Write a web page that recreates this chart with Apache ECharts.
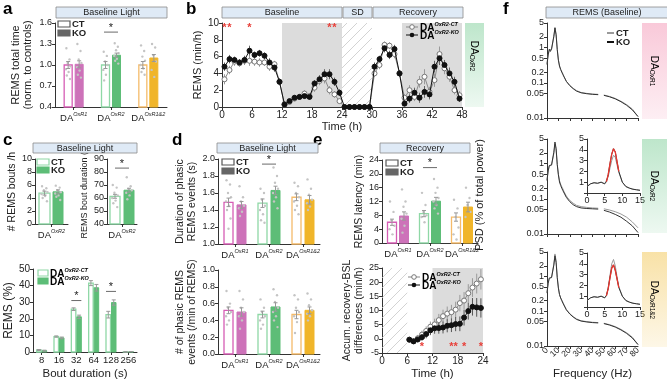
<!DOCTYPE html>
<html>
<head>
<meta charset="utf-8">
<script src="https://cdn.jsdelivr.net/npm/echarts@6.0.0/dist/echarts.min.js"></script>
<style>
  html, body { margin: 0; padding: 0; background: #fff; }
  #chart { width: 667px; height: 381px; }
</style>
</head>
<body>
<div id="chart"></div>
<script>
// ---- values ----
const groups = ['OxR1', 'OxR2', 'OxR1&2'];
const oxr2Only = ['OxR2'];

// a: REMS total time, baseline light (normalised to controls)
const totalCT = [1.0, 1.0, 1.0];
const totalKO = [1.01, 1.14, 1.1];
const totalCTErr = [0.05, 0.05, 0.05];
const totalKOErr = [0.05, 0.03, 0.05];
const totalCTDots = [[1.24, 1.08, 1.03, 0.98, 0.94, 0.9, 0.85, 0.8], [1.19, 1.13, 1.05, 1.0, 0.93, 0.86, 0.78], [1.28, 1.2, 1.12, 1.06, 1.0, 0.95, 0.9, 0.86]];
const totalKODots = [[1.3, 1.2, 1.08, 1.03, 0.97, 0.92, 0.86, 0.82], [1.31, 1.26, 1.21, 1.17, 1.13, 1.09, 1.06, 1.02], [1.3, 1.25, 1.14, 1.05, 0.93, 0.83]];
const totalTicks = [0.4, 0.7, 1.0, 1.3, 1.6];

// b: hourly REMS (min/h)
const hours = Array.from({ length: 48 }, (_, i) => i + 0.5);
const hourlyCT = [3.3, 4.4, 5.4, 5.2, 5.5, 5.5, 5.4, 5.3, 5.3, 4.8, 5.1, 3.0,
  0.3, 0.6, 1.0, 1.2, 1.6, 1.3, 2.3, 3.1, 3.4, 2.0, 1.5, 0.7,
  0, 0, 0, 0, 0, 0,
  4.0, 5.0, 7.4, 7.3, 6.3, 4.0, 1.1, 2.0, 1.2, 3.0, 3.6, 1.8, 3.2, 6.3, 4.6, 3.6, 2.0, 1.4];
const hourlyKO = [4.8, 5.7, 5.6, 5.3, 5.6, 6.7, 6.2, 6.4, 6.1, 5.3, 4.7, 3.0,
  0.3, 0.7, 1.1, 1.2, 1.3, 1.2, 2.8, 3.3, 3.9, 3.9, 3.0, 1.7,
  0, 0, 0, 0, 0, 0,
  4.8, 5.7, 7.0, 6.2, 6.9, 4.0, 0.4, 1.0, 1.7, 1.1, 1.8, 1.5, 4.8, 5.8, 5.0, 4.0, 3.0, 1.0];
const hourlyCTErr = [0.6, 0.5, 0.5, 0.4, 0.5, 0.6, 0.5, 0.5, 0.4, 0.5, 0.4, 0.4,
  0.2, 0.2, 0.3, 0.3, 0.4, 0.3, 0.5, 0.5, 0.6, 0.5, 0.4, 0.3,
  0, 0, 0, 0, 0, 0,
  0.4, 0.5, 0.4, 0.4, 0.5, 0.4, 0.4, 0.6, 0.5, 0.7, 0.9, 0.6, 0.8, 0.9, 0.7, 0.6, 0.5, 0.5];
const hourlyKOErr = [0.5, 0.5, 0.4, 0.4, 0.5, 0.6, 0.4, 0.4, 0.4, 0.5, 0.5, 0.4,
  0.2, 0.2, 0.3, 0.3, 0.3, 0.3, 0.4, 0.5, 0.6, 0.6, 0.5, 0.4,
  0, 0, 0, 0, 0, 0,
  0.5, 0.4, 0.5, 0.5, 0.5, 0.4, 0.3, 0.5, 0.6, 0.6, 0.7, 0.6, 0.7, 0.8, 0.6, 0.7, 0.6, 0.4];
const sigHoursB = [0.5, 1.5, 5.5, 21.5, 22.5];

// c: bouts
const boutsCT = [4.75], boutsKO = [4.95];
const boutsCTErr = [0.3], boutsKOErr = [0.3];
const boutsCTDots = [[5.8, 5.5, 5.2, 4.9, 4.6, 4.3, 4.0, 3.5]];
const boutsKODots = [[5.9, 5.6, 5.2, 4.9, 4.7, 4.4, 4.2, 3.7]];
const boutDurCT = [61.3], boutDurKO = [66.0];
const boutDurCTErr = [1.5], boutDurKOErr = [1.5];
const boutDurCTDots = [[70, 68, 64, 62, 60, 58, 56, 53]];
const boutDurKODots = [[76, 69, 67, 66, 64, 62, 59]];
const boutBins = ['8', '16', '32', '64', '128', '256'];
const boutPctCT = [1.2, 9.3, 25.8, 41.5, 22.5, 0.1];
const boutPctKO = [0.8, 8.5, 21.2, 38.7, 29.8, 0.2];
const boutPctCTErr = [0.3, 0.4, 0.8, 1.5, 2.0, 0.1];
const boutPctKOErr = [0.3, 0.5, 1.0, 2.0, 1.6, 0.1];

// d: phasic REMS
const phDurCT = [1.49, 1.48, 1.55], phDurKO = [1.46, 1.63, 1.52];
const phDurCTErr = [0.05, 0.05, 0.04], phDurKOErr = [0.04, 0.05, 0.05];
const phDurCTDots = [[1.75, 1.7, 1.6, 1.55, 1.5, 1.45, 1.4, 1.3, 1.18], [1.65, 1.6, 1.52, 1.45, 1.4, 1.35, 1.28, 1.25], [1.72, 1.68, 1.6, 1.55, 1.5, 1.45, 1.4, 1.35]];
const phDurKODots = [[1.68, 1.55, 1.5, 1.45, 1.42, 1.38, 1.33], [1.9, 1.8, 1.72, 1.65, 1.6, 1.55, 1.5, 1.42], [1.76, 1.65, 1.58, 1.52, 1.48, 1.44, 1.4]];
const phNumCT = [0.52, 0.47, 0.47], phNumKO = [0.50, 0.56, 0.52];
const phNumCTErr = [0.04, 0.04, 0.05], phNumKOErr = [0.05, 0.05, 0.04];
const phNumCTDots = [[0.75, 0.6, 0.55, 0.5, 0.45, 0.4, 0.35], [0.65, 0.55, 0.5, 0.45, 0.4, 0.35, 0.3], [0.7, 0.65, 0.55, 0.5, 0.45, 0.38, 0.25]];
const phNumKODots = [[0.75, 0.65, 0.55, 0.5, 0.45, 0.4, 0.3], [0.77, 0.7, 0.62, 0.55, 0.5, 0.45, 0.4, 0.32], [0.72, 0.65, 0.58, 0.52, 0.48, 0.45, 0.4]];

// e: recovery
const latCT = [6.0, 8.5, 7.5], latKO = [7.8, 12.1, 10.4];
const latCTErr = [0.9, 0.9, 1.2], latKOErr = [1.2, 1.1, 1.4];
const latCTDots = [[12, 9, 6.5, 5, 4, 2.5], [14.5, 11, 9, 8, 7.5, 6], [12.5, 10, 7.5, 4.5, 2.5, 1]];
const latKODots = [[15.5, 12, 10.5, 8.5, 7, 5, 3], [18.5, 16, 14.5, 13, 12, 11, 10, 8.5], [16, 13, 11, 9, 7.5]];
const recHours = [6.5, 7.5, 8.5, 9.5, 10.5, 11.5, 12.5, 13.5, 14.5, 15.5, 16.5, 17.5, 18.5, 19.5, 20.5, 21.5, 22.5, 23.5];
const accCT = [-0.3, -0.8, 0.2, 1.5, 2.8, 4.3, 5.1, 6.6, 8.0, 8.9, 9.4, 10.3, 12.6, 13.5, 16.1, 18.1, 19.5, 21.0];
const accKO = [-0.3, -0.9, -0.2, 0.6, 1.7, 3.0, 3.7, 3.8, 4.0, 4.6, 4.8, 5.2, 5.3, 7.5, 9.8, 11.3, 11.1, 10.9];
const accCTErr = [0.8, 1.0, 1.2, 1.4, 1.6, 1.8, 2.0, 2.2, 2.3, 2.5, 2.6, 2.8, 2.9, 3.0, 3.2, 3.3, 3.5, 3.6];
const accKOErr = [0.8, 0.9, 1.1, 1.3, 1.5, 1.7, 1.9, 2.0, 2.1, 2.3, 2.4, 2.5, 2.6, 2.8, 3.0, 3.1, 3.3, 3.4];
const sigHoursE = [9.5, 16.5, 17.5, 19.5, 23.5];

// f: REMS PSD (% of total power), log scale; null = notch gap
const freqHz = [0, 1, 2, 3, 4, 5, 6, 7, 8, 9, 10, 11, 12, 13, 14, 15, 17, 20, 23, 26, 30, 35, 40, 45, 47.5, 50, 55, 60, 65, 70, 75, 80];
const psdR1CT = [0.35, 0.6, 0.85, 0.75, 0.9, 0.95, 2.0, 3.8, 2.4, 0.9, 0.45, 0.3, 0.24, 0.21, 0.18, 0.15, 0.11, 0.085, 0.07, 0.06, 0.053, 0.05, 0.048, 0.047, null, 0.045, 0.041, 0.036, 0.03, 0.024, 0.018, 0.011];
const psdR1KO = [0.33, 0.62, 0.9, 0.78, 0.92, 0.95, 2.1, 3.6, 2.3, 0.88, 0.44, 0.3, 0.24, 0.2, 0.17, 0.15, 0.11, 0.083, 0.068, 0.058, 0.052, 0.049, 0.047, 0.046, null, 0.044, 0.04, 0.035, 0.029, 0.023, 0.017, 0.011];
const psdR2CT = [0.35, 0.6, 0.85, 0.75, 0.9, 0.9, 1.9, 3.6, 2.5, 0.95, 0.5, 0.33, 0.26, 0.22, 0.19, 0.16, 0.12, 0.09, 0.075, 0.065, 0.06, 0.057, 0.055, 0.054, null, 0.052, 0.048, 0.043, 0.037, 0.03, 0.022, 0.015];
const psdR2KO = [0.33, 0.62, 0.88, 0.78, 0.92, 0.9, 2.1, 4.1, 2.7, 0.95, 0.48, 0.3, 0.24, 0.2, 0.17, 0.15, 0.11, 0.083, 0.068, 0.06, 0.055, 0.053, 0.052, 0.051, null, 0.047, 0.042, 0.036, 0.03, 0.023, 0.017, 0.011];
const psdR12CT = [0.35, 0.65, 0.9, 0.8, 0.95, 0.95, 2.2, 4.4, 2.8, 0.95, 0.48, 0.3, 0.24, 0.21, 0.18, 0.15, 0.11, 0.085, 0.07, 0.06, 0.053, 0.05, 0.048, 0.047, null, 0.045, 0.041, 0.036, 0.03, 0.024, 0.018, 0.011];
const psdR12KO = [0.33, 0.62, 0.88, 0.78, 0.92, 0.95, 2.1, 3.9, 2.5, 0.92, 0.46, 0.3, 0.24, 0.2, 0.17, 0.15, 0.11, 0.083, 0.068, 0.058, 0.052, 0.049, 0.047, 0.046, null, 0.044, 0.04, 0.035, 0.029, 0.023, 0.017, 0.011];
const psdTicks = [0.01, 0.05, 0.1, 0.2, 0.5, 1, 2, 5];
const freqTicks = [0, 10, 20, 30, 40, 50, 60, 70, 80];
const freqEnds = [0, 80];
const insetHz = [0, 1, 2, 3, 4, 5, 5.5, 6, 6.5, 7, 7.5, 8, 8.5, 9, 10, 11, 12, 13, 14, 15];
const insetR2CT = [0.6, 0.85, 0.95, 0.9, 1.0, 0.85, 1.0, 1.5, 2.3, 3.0, 3.5, 3.3, 2.6, 1.9, 1.0, 0.6, 0.45, 0.35, 0.3, 0.25];
const insetR2KO = [0.6, 0.85, 0.95, 0.9, 1.0, 0.85, 1.05, 1.7, 2.7, 3.6, 4.1, 3.8, 2.9, 2.0, 1.0, 0.6, 0.45, 0.35, 0.3, 0.25];
const insetR12CT = [0.6, 0.85, 0.95, 0.9, 1.0, 0.85, 1.1, 1.8, 2.9, 4.0, 4.4, 3.8, 2.8, 1.9, 1.0, 0.6, 0.45, 0.35, 0.3, 0.25];
const insetR12KO = [0.6, 0.85, 0.95, 0.9, 1.0, 0.85, 1.05, 1.7, 2.7, 3.6, 3.9, 3.4, 2.6, 1.8, 1.0, 0.6, 0.45, 0.35, 0.3, 0.25];

// ---- styling ----
const FONT = 'Liberation Sans, Arial, sans-serif';
const INK = '#222';
const colOxR1 = { line: '#d65db5', fill: '#cd72b9' };
const colOxR2 = { line: '#8fd8a6', fill: '#5dbd77' };
const colOxR12 = { line: '#f5bb6a', fill: '#f0b52a' };
const groupCols = [colOxR1, colOxR2, colOxR12];
const jitter = [-2, 1.5, -0.5, 2.5, -2.5, 0.5, -1.5, 2, 0];

const hatch = document.createElement('canvas');
hatch.width = 10; hatch.height = 10;
(function () {
  const g = hatch.getContext('2d');
  g.strokeStyle = '#c8c8c8'; g.lineWidth = 0.8;
  g.beginPath();
  g.moveTo(0, 10); g.lineTo(10, 0);
  g.moveTo(-3, 3); g.lineTo(3, -3);
  g.moveTo(7, 13); g.lineTo(13, 7);
  g.stroke();
})();

function merge(a, b) {
  for (const k in b) {
    if (b[k] && typeof b[k] === 'object' && !Array.isArray(b[k]) && a[k] && typeof a[k] === 'object' && !Array.isArray(a[k])) merge(a[k], b[k]);
    else a[k] = b[k];
  }
  return a;
}
function ax(o) {
  return merge({
    axisLine: { show: true, onZero: false, lineStyle: { color: '#333', width: 1 } },
    axisTick: { show: true, length: 3, lineStyle: { color: '#333', width: 1 } },
    axisLabel: { color: INK, fontSize: 9, fontFamily: FONT, margin: 3, hideOverlap: false },
    splitLine: { show: false },
    nameLocation: 'middle',
    nameTextStyle: { color: INK, fontSize: 10.5, fontFamily: FONT, lineHeight: 12 }
  }, o);
}
const daRich = {
  d: { fontSize: 9.5, fontFamily: FONT, color: INK, lineHeight: 12, verticalAlign: 'bottom' },
  s: { fontSize: 5.5, fontFamily: FONT, fontStyle: 'italic', color: INK, lineHeight: 12, verticalAlign: 'top' }
};
const daAxisLabel = { formatter: v => '{d|DA}{s|' + v + '}', rich: daRich, margin: 4, interval: 0 };

const grids = [], xAxes = [], yAxes = [], series = [], gfx = [];
function addGrid(box, xa, ya) {
  grids.push(box);
  const i = grids.length - 1;
  xAxes.push(ax(merge({ gridIndex: i }, xa)));
  yAxes.push(ax(merge({ gridIndex: i }, ya)));
  return i;
}
function catX(cats) {
  return { type: 'category', data: cats, axisTick: { alignWithLabel: true, interval: 0 }, axisLabel: daAxisLabel };
}

// bars + dots + error bars through a custom series on the category axis
function bars(gi, means, errs, dots, side, cols, bw, gap, yMin) {
  series.push({
    type: 'custom', xAxisIndex: gi, yAxisIndex: gi, silent: true, clip: false, z: 3,
    data: means.map((m, i) => [i, m]),
    renderItem(p, api) {
      const i = p.dataIndex;
      const top = api.coord([i, means[i]]);
      const base = api.coord([i, yMin]);
      const cx = top[0] + side * (gap / 2 + bw / 2);
      const c = cols[i];
      const kids = [{
        type: 'rect',
        shape: { x: cx - bw / 2, y: top[1], width: bw, height: base[1] - top[1] },
        style: side < 0 ? { fill: '#fff', stroke: c.line, lineWidth: 1.3 } : { fill: c.fill, stroke: c.fill, lineWidth: 1 }
      }];
      (dots ? dots[i] : []).forEach((d, k) => {
        const q = api.coord([i, d]);
        kids.push({ type: 'circle', shape: { cx: cx + jitter[k % jitter.length] * bw / 9, cy: q[1], r: 1.2 }, style: { fill: '#c4c4c4' } });
      });
      const hi = api.coord([i, means[i] + errs[i]]);
      const lo = api.coord([i, means[i] - errs[i]]);
      const es = { stroke: '#999', lineWidth: 1 };
      kids.push({ type: 'line', shape: { x1: cx, y1: hi[1], x2: cx, y2: lo[1] }, style: es });
      kids.push({ type: 'line', shape: { x1: cx - 2, y1: hi[1], x2: cx + 2, y2: hi[1] }, style: es });
      kids.push({ type: 'line', shape: { x1: cx - 2, y1: lo[1], x2: cx + 2, y2: lo[1] }, style: es });
      return { type: 'group', children: kids };
    }
  });
}
function sig(gi, cat, yVal, half) {
  series.push({
    type: 'custom', xAxisIndex: gi, yAxisIndex: gi, silent: true, clip: false, z: 4,
    data: [[cat, yVal]],
    renderItem(p, api) {
      const c = api.coord([api.value(0), api.value(1)]);
      return {
        type: 'group', children: [
          { type: 'line', shape: { x1: c[0] - half, y1: c[1], x2: c[0] + half, y2: c[1] }, style: { stroke: '#444', lineWidth: 0.8 } },
          { type: 'text', x: c[0], y: c[1] + 1, style: { text: '*', fill: INK, fontSize: 11, fontFamily: FONT, textAlign: 'center', textVerticalAlign: 'bottom' } }
        ]
      };
    }
  });
}
function redStars(gi, xs, yVal) {
  series.push({
    type: 'custom', xAxisIndex: gi, yAxisIndex: gi, silent: true, clip: false, z: 5,
    data: xs.map(x => [x, yVal]),
    renderItem(p, api) {
      const c = api.coord([api.value(0), api.value(1)]);
      return { type: 'text', x: c[0], y: c[1], style: { text: '*', fill: '#e8403a', fontSize: 11, fontWeight: 'bold', fontFamily: FONT, textAlign: 'center', textVerticalAlign: 'middle' } };
    }
  });
}
function errLines(gi, xs, ys, es, color) {
  series.push({
    type: 'custom', xAxisIndex: gi, yAxisIndex: gi, silent: true, z: 1,
    data: xs.map((x, i) => [x, ys[i], es[i]]),
    renderItem(p, api) {
      const x = api.value(0), y = api.value(1), e = api.value(2);
      const a = api.coord([x, y + e]), b = api.coord([x, y - e]);
      return { type: 'line', shape: { x1: a[0], y1: a[1], x2: b[0], y2: b[1] }, style: { stroke: color, lineWidth: 1 } };
    }
  });
}
function timeLine(gi, xs, ys, filled, extra) {
  series.push(merge({
    type: 'line', xAxisIndex: gi, yAxisIndex: gi, silent: true, z: filled ? 3 : 2,
    data: xs.map((x, i) => [x, ys[i]]),
    symbol: 'circle', symbolSize: 5, showSymbol: true,
    lineStyle: { color: filled ? '#111' : '#8a8a8a', width: 1 },
    itemStyle: filled ? { color: '#111', borderColor: '#111' } : { color: '#fff', borderColor: '#777', borderWidth: 1 }
  }, extra || {}));
}

// graphic helpers
function header(x, y, w, h, text) {
  gfx.push({ type: 'rect', shape: { x, y, width: w, height: h }, style: { fill: '#dfeaf6', stroke: '#8a8a8a', lineWidth: 0.8 } });
  gfx.push({ type: 'text', x: x + w / 2, y: y + h / 2 + 0.5, style: { text, fill: INK, fontSize: 9, fontFamily: FONT, textAlign: 'center', textVerticalAlign: 'middle' } });
}
function letter(x, y, t) {
  gfx.push({ type: 'text', x, y, style: { text: t, fill: '#000', fontSize: 17, fontWeight: 'bold', fontFamily: FONT, textVerticalAlign: 'top' } });
}
function boxLegend(x, y, stroke, fill, label) {
  gfx.push({ type: 'rect', shape: { x, y: y - 3, width: 12, height: 6 }, style: { fill, stroke, lineWidth: 1.2 } });
  gfx.push({ type: 'text', x: x + 14, y, style: { text: label, fill: INK, fontSize: 9.5, fontWeight: 'bold', fontFamily: FONT, textVerticalAlign: 'middle' } });
}
const supRich = {
  d: { fontSize: 10, fontWeight: 'bold', fontFamily: FONT, color: INK, lineHeight: 12, verticalAlign: 'bottom' },
  s: { fontSize: 5.5, fontWeight: 'bold', fontStyle: 'italic', fontFamily: FONT, color: INK, lineHeight: 12, verticalAlign: 'top' }
};
function lineLegend(x, y, filled, sup) {
  gfx.push({ type: 'line', shape: { x1: x, y1: y, x2: x + 12, y2: y }, style: { stroke: filled ? '#111' : '#888', lineWidth: 1 } });
  gfx.push({ type: 'circle', shape: { cx: x + 6, cy: y, r: 2.3 }, style: filled ? { fill: '#111' } : { fill: '#fff', stroke: '#777', lineWidth: 1 } });
  gfx.push({ type: 'text', x: x + 14, y, style: { text: '{d|DA}{s|' + sup + '}', rich: supRich, textVerticalAlign: 'middle' } });
}
function grpLegend(x, y, stroke, fill, sup) {
  gfx.push({ type: 'rect', shape: { x, y: y - 3, width: 10, height: 6 }, style: { fill, stroke, lineWidth: 1.2 } });
  gfx.push({ type: 'text', x: x + 12, y, style: { text: '{d|DA}{s|' + sup + '}', rich: supRich, textVerticalAlign: 'middle' } });
}
function band(x, y, w, h, c0, c1, sup, cy) {
  gfx.push({ type: 'rect', shape: { x, y, width: w, height: h }, style: { fill: new echarts.graphic.LinearGradient(0, 0, 0, 1, [{ offset: 0, color: c0 }, { offset: 1, color: c1 }]) } });
  gfx.push({
    type: 'text', x: x + w / 2, y: cy, rotation: -Math.PI / 2,
    style: {
      text: '{d|DA}{s|' + sup + '}', textAlign: 'center', textVerticalAlign: 'middle',
      rich: { d: { fontSize: 10, fontFamily: FONT, color: '#333', lineHeight: 12, verticalAlign: 'bottom' }, s: { fontSize: 6.5, fontFamily: FONT, color: '#333', lineHeight: 12, verticalAlign: 'bottom' } }
    }
  });
}
function vText(x, y, t, size) {
  gfx.push({ type: 'text', x, y, rotation: Math.PI / 2, style: { text: t, fill: INK, fontSize: size, fontFamily: FONT, textAlign: 'center', textVerticalAlign: 'middle' } });
}

// ---- panel a ----
const ga = addGrid({ left: 55, top: 23, width: 112, height: 84 }, catX(groups),
  { type: 'value', min: 0.4, max: 1.6, axisLabel: { customValues: totalTicks, formatter: v => v.toFixed(1) }, axisTick: { customValues: totalTicks },
    name: 'REMS total time\n(norm. to controls)', nameGap: 21, nameTextStyle: { fontSize: 11 } });
bars(ga, totalCT, totalCTErr, totalCTDots, -1, groupCols, 8, 3, 0.4);
bars(ga, totalKO, totalKOErr, totalKODots, 1, groupCols, 8, 3, 0.4);
sig(ga, 1, 1.47, 7);

// ---- panel b ----
const gb = addGrid({ left: 222, top: 23, width: 240, height: 84 },
  { type: 'value', min: 0, max: 48, interval: 6, axisLabel: { fontSize: 10 }, name: 'Time (h)', nameGap: 14, nameTextStyle: { fontSize: 11 } },
  { type: 'value', min: 0, max: 10, interval: 2, axisLabel: { fontSize: 10 }, name: 'REMS (min/h)', nameGap: 17, nameTextStyle: { fontSize: 11 } });
errLines(gb, hours, hourlyCT, hourlyCTErr, '#9a9a9a');
errLines(gb, hours, hourlyKO, hourlyKOErr, '#666');
timeLine(gb, hours, hourlyCT, false, {
  markArea: { silent: true, data: [
    [{ xAxis: 12, itemStyle: { color: '#dcdcdc' } }, { xAxis: 24 }],
    [{ xAxis: 36, itemStyle: { color: '#dcdcdc' } }, { xAxis: 48 }],
    [{ xAxis: 24, itemStyle: { color: { image: hatch, repeat: 'repeat' } } }, { xAxis: 30 }]
  ] }
});
timeLine(gb, hours, hourlyKO, true);
redStars(gb, sigHoursB, 9.4);

// ---- panel c ----
const gc1 = addGrid({ left: 35, top: 159, width: 33, height: 65 }, catX(oxr2Only),
  { type: 'value', min: 0, max: 10, interval: 2, name: '# REMS bouts /h', nameGap: 13, nameTextStyle: { fontSize: 10.5 } });
bars(gc1, boutsCT, boutsCTErr, boutsCTDots, -1, [colOxR2], 11, 3, 0);
bars(gc1, boutsKO, boutsKOErr, boutsKODots, 1, [colOxR2], 10, 3, 0);
const gc2 = addGrid({ left: 107, top: 159, width: 30, height: 65 }, catX(oxr2Only),
  { type: 'value', min: 40, max: 90, interval: 10, name: 'REMS bout duration (s)', nameGap: 15, nameTextStyle: { fontSize: 9 } });
bars(gc2, boutDurCT, boutDurCTErr, boutDurCTDots, -1, [colOxR2], 10, 4, 40);
bars(gc2, boutDurKO, boutDurKOErr, boutDurKODots, 1, [colOxR2], 10, 4, 40);
sig(gc2, 0, 83, 7);
const gc3 = addGrid({ left: 33, top: 269, width: 104, height: 84 },
  { type: 'category', data: boutBins, axisTick: { alignWithLabel: true, interval: 0 }, axisLabel: { fontSize: 9.5, interval: 0 }, name: 'Bout duration (s)', nameGap: 16, nameTextStyle: { fontSize: 11.5 } },
  { type: 'value', min: 0, max: 50, interval: 10, axisLabel: { fontSize: 10 }, name: 'REMS (%)', nameGap: 16, nameTextStyle: { fontSize: 12 } });
const c3cols = boutBins.map(() => colOxR2);
bars(gc3, boutPctCT, boutPctCTErr, null, -1, c3cols, 4.5, 1, 0);
bars(gc3, boutPctKO, boutPctKOErr, null, 1, c3cols, 4.5, 1, 0);
sig(gc3, 2, 31, 5);
sig(gc3, 4, 36.5, 5);

// ---- panel d ----
const gd1 = addGrid({ left: 218, top: 159, width: 102, height: 85 }, catX(groups),
  { type: 'value', min: 1.0, max: 2.0, interval: 0.2, axisLabel: { formatter: v => v.toFixed(1) },
    name: 'Duration of phasic\nREMS events (s)', nameGap: 20, nameTextStyle: { fontSize: 10.5 } });
bars(gd1, phDurCT, phDurCTErr, phDurCTDots, -1, groupCols, 9, 4, 1.0);
bars(gd1, phDurKO, phDurKOErr, phDurKODots, 1, groupCols, 9, 4, 1.0);
sig(gd1, 1, 1.94, 7);
const gd2 = addGrid({ left: 218, top: 270, width: 102, height: 84 }, catX(groups),
  { type: 'value', min: 0, max: 1.0, interval: 0.2, axisLabel: { formatter: v => v.toFixed(1) },
    name: '# of phasic REMS\nevents (/min of REMS)', nameGap: 20, nameTextStyle: { fontSize: 10.5 } });
bars(gd2, phNumCT, phNumCTErr, phNumCTDots, -1, groupCols, 9, 4, 0);
bars(gd2, phNumKO, phNumKOErr, phNumKODots, 1, groupCols, 9, 4, 0);

// ---- panel e ----
const ge1 = addGrid({ left: 382, top: 160, width: 96, height: 83 }, catX(groups),
  { type: 'value', min: 0, max: 24, interval: 4, name: 'REMS latency (min)', nameGap: 14, nameTextStyle: { fontSize: 10.5 } });
bars(ge1, latCT, latCTErr, latCTDots, -1, groupCols, 9, 3, 0);
bars(ge1, latKO, latKOErr, latKODots, 1, groupCols, 9, 3, 0);
sig(ge1, 1, 21.8, 7);
const ge2 = addGrid({ left: 382, top: 268, width: 101, height: 87 },
  { type: 'value', min: 0, max: 24, interval: 6, axisLabel: { fontSize: 10 }, name: 'Time (h)', nameGap: 15, nameTextStyle: { fontSize: 11.5 } },
  { type: 'value', min: -5, max: 25, interval: 5, name: 'Accum. recovery-BSL\ndifferences (min/h)', nameGap: 13, nameTextStyle: { fontSize: 10.5 } });
errLines(ge2, recHours, accCT, accCTErr, '#9a9a9a');
errLines(ge2, recHours, accKO, accKOErr, '#555');
timeLine(ge2, recHours, accCT, false, {
  markArea: { silent: true, data: [
    [{ xAxis: 12, itemStyle: { color: '#dcdcdc' } }, { xAxis: 24 }],
    [{ xAxis: 0, itemStyle: { color: { image: hatch, repeat: 'repeat' } } }, { xAxis: 6 }]
  ] }
});
timeLine(ge2, recHours, accKO, true);
redStars(ge2, sigHoursE, -3);

// ---- panel f ----
const lg = v => (v == null ? '-' : Math.log10(v));
const logTicks = psdTicks.map(Math.log10);
const freqLabel = { rotate: 45, fontSize: 8.5, margin: 3, hideOverlap: false };
function psdGrid(top, showX) {
  return addGrid({ left: 547, top, width: 91, height: 95 },
    { type: 'value', min: 0, max: 80, interval: 10,
      axisLabel: merge({ show: showX, customValues: freqTicks }, freqLabel),
      axisTick: { customValues: freqTicks },
      name: showX ? 'Frequency (Hz)' : '', nameGap: 22, nameTextStyle: { fontSize: 11.5 } },
    { type: 'value', min: -2, max: Math.log10(5),
      axisLabel: { customValues: logTicks, formatter: v => String(parseFloat(Math.pow(10, v).toPrecision(2))) },
      axisTick: { customValues: logTicks } });
}
function psdLine(gi, xs, ys, color, width) {
  series.push({ type: 'line', xAxisIndex: gi, yAxisIndex: gi, silent: true, showSymbol: false, connectNulls: false,
    data: xs.map((x, i) => [x, lg(ys[i])]), lineStyle: { color, width: width || 1 } });
}
const gf1 = psdGrid(23, false);
psdLine(gf1, freqHz, psdR1CT, '#9a9a9a');
psdLine(gf1, freqHz, psdR1KO, '#333');
const gf2 = psdGrid(139, false);
psdLine(gf2, freqHz, psdR2CT, '#9a9a9a');
psdLine(gf2, freqHz, psdR2KO, '#333');
const gf3 = psdGrid(252, true);
psdLine(gf3, freqHz, psdR12CT, '#9a9a9a');
psdLine(gf3, freqHz, psdR12KO, '#333');

function inset(top, ct, ko) {
  const gi = addGrid({ left: 587, top, width: 53, height: 54 },
    { type: 'value', min: 0, max: 15, interval: 5, axisLabel: { fontSize: 9 } },
    { type: 'value', min: 0, max: 5, interval: 1, axisLabel: { fontSize: 9, formatter: v => (v === 0 ? '' : String(v)) } });
  series.push({ type: 'line', xAxisIndex: gi, yAxisIndex: gi, silent: true, showSymbol: false, data: insetHz.map((x, i) => [x, ct[i]]), lineStyle: { color: '#9a9a9a', width: 1 } });
  series.push({ type: 'line', xAxisIndex: gi, yAxisIndex: gi, silent: true, showSymbol: false, data: insetHz.map((x, i) => [x, ko[i]]), lineStyle: { color: '#333', width: 1 } });
  const red = insetHz.map((x, i) => [x, ko[i]]).filter(d => d[0] >= 5.5 && d[0] <= 9);
  series.push({ type: 'line', xAxisIndex: gi, yAxisIndex: gi, silent: true, showSymbol: false, data: red, lineStyle: { color: '#e8352e', width: 1.3 }, z: 4 });
}
inset(139, insetR2CT, insetR2KO);
inset(253, insetR12CT, insetR12KO);

// extra label-only axis for the end labels (0, 80) of the frequency axis
xAxes.push(ax({ type: 'value', gridIndex: gf3, position: 'bottom', offset: 0, min: 0, max: 80,
  axisLine: { show: false }, axisTick: { show: false },
  axisLabel: merge({ customValues: freqEnds, showMinLabel: true, showMaxLabel: true }, freqLabel) }));

// ---- annotations ----
letter(3, 1, 'a'); letter(186, 1, 'b'); letter(3, 132, 'c'); letter(172, 132, 'd'); letter(313, 132, 'e'); letter(503, 1, 'f');
header(56, 7, 111, 11, 'Baseline Light');
header(222, 7, 120, 11, 'Baseline');
header(343, 7, 29, 11, 'SD');
header(373, 7, 90, 11, 'Recovery');
header(33, 143, 104, 10, 'Baseline Light');
header(217, 143, 101, 10, 'Baseline Light');
header(380, 143, 90, 10, 'Recovery');
header(546, 7, 122, 11, 'REMS (Baseline)');

boxLegend(58, 24, '#555', '#fff', 'CT');
boxLegend(58, 33, '#666', '#666', 'KO');
boxLegend(37, 162, colOxR2.line, '#fff', 'CT');
boxLegend(37, 170, colOxR2.fill, colOxR2.fill, 'KO');
boxLegend(222, 162, '#555', '#fff', 'CT');
boxLegend(222, 171, '#666', '#666', 'KO');
boxLegend(386, 163, '#555', '#fff', 'CT');
boxLegend(386, 172, '#666', '#666', 'KO');
grpLegend(38, 273, colOxR2.line, '#fff', 'OxR2-CT');
grpLegend(38, 281, colOxR2.fill, colOxR2.fill, 'OxR2-KO');
lineLegend(406, 27, false, 'OxR2-CT');
lineLegend(406, 35, true, 'OxR2-KO');
lineLegend(408, 277, false, 'OxR2-CT');
lineLegend(408, 285, true, 'OxR2-KO');
gfx.push({ type: 'line', shape: { x1: 607, y1: 33, x2: 614, y2: 33 }, style: { stroke: '#9a9a9a', lineWidth: 2 } });
gfx.push({ type: 'line', shape: { x1: 607, y1: 42, x2: 614, y2: 42 }, style: { stroke: '#111', lineWidth: 2 } });
gfx.push({ type: 'text', x: 616, y: 33, style: { text: 'CT', fill: INK, fontSize: 9.5, fontWeight: 'bold', fontFamily: FONT, textVerticalAlign: 'middle' } });
gfx.push({ type: 'text', x: 616, y: 42, style: { text: 'KO', fill: INK, fontSize: 9.5, fontWeight: 'bold', fontFamily: FONT, textVerticalAlign: 'middle' } });

band(465, 23, 19, 84, 'rgba(110,200,140,0.45)', 'rgba(110,200,140,0.12)', 'OxR2', 56);
band(642, 23, 25, 96, 'rgba(240,120,160,0.40)', 'rgba(240,120,160,0.12)', 'OxR1', 71);
band(642, 139, 25, 94, 'rgba(110,200,140,0.45)', 'rgba(110,200,140,0.12)', 'OxR2', 186);
band(642, 252, 25, 95, 'rgba(240,190,60,0.45)', 'rgba(240,190,60,0.12)', 'OxR1&2', 300);
vText(480, 195, 'PSD (% of total power)', 11);
gfx.forEach(g => { g.silent = true; g.z = 10; });

const chart = echarts.init(document.getElementById('chart'));
chart.setOption({
  animation: false,
  backgroundColor: '#fff',
  textStyle: { fontFamily: FONT },
  grid: grids,
  xAxis: xAxes,
  yAxis: yAxes,
  series: series,
  graphic: { elements: gfx }
});
</script>
</body>
</html>
